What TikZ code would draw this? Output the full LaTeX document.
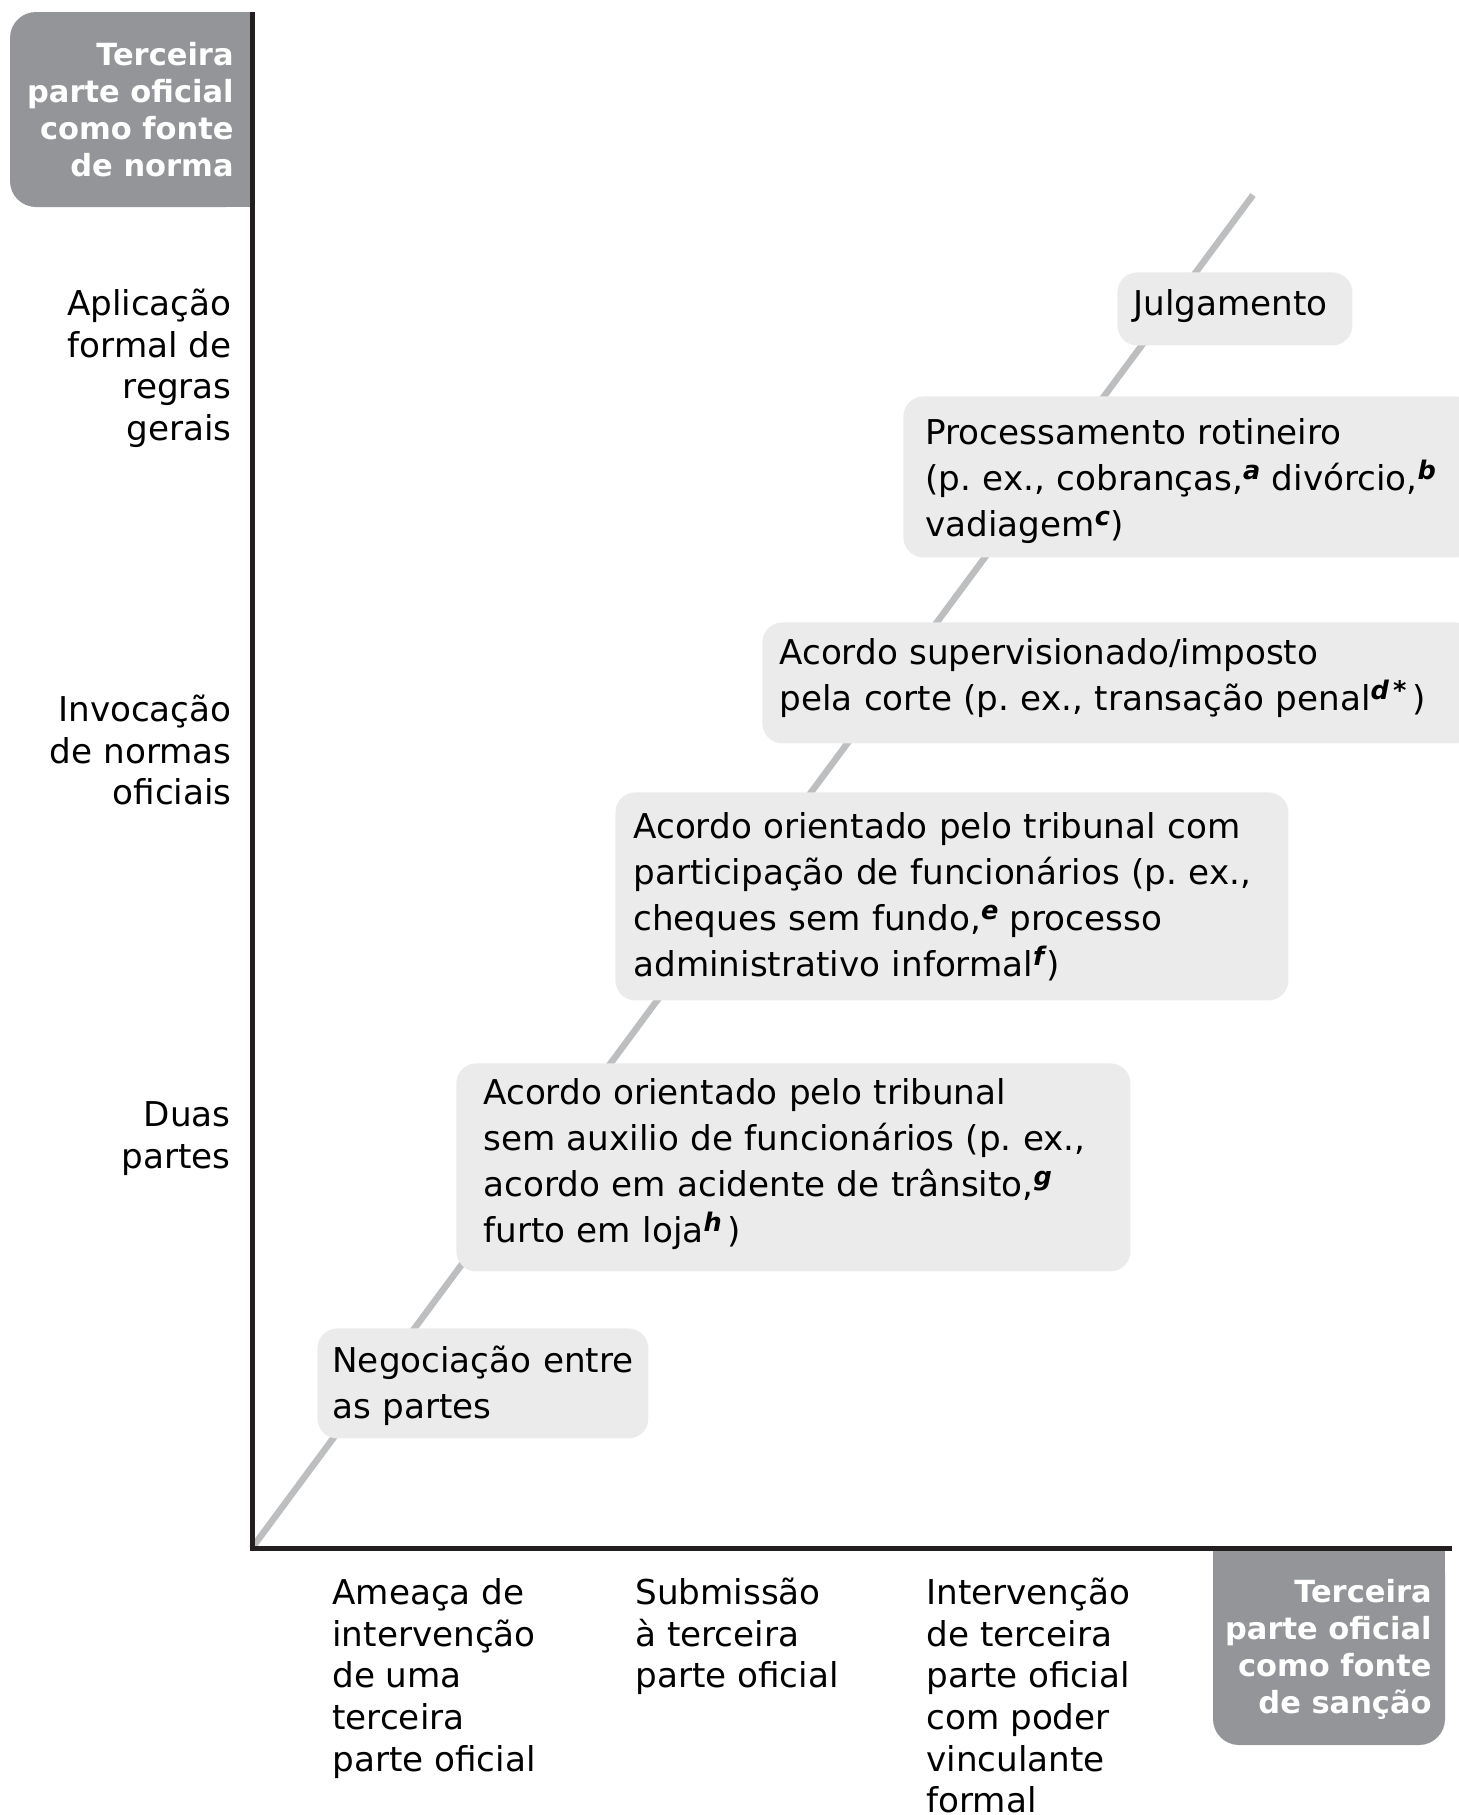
\documentclass[tikz,border=0pt]{standalone}
\usepackage{fontspec}
\setmainfont{DejaVu Sans}[BoldFont={DejaVu Sans Bold},ItalicFont={DejaVu Sans Oblique},BoldItalicFont={DejaVu Sans Bold Oblique}]
\newcommand{\fnm}[1]{\raisebox{5.5pt}{\fontsize{12.8}{12.8}\selectfont\bfseries\itshape #1\/}}
\definecolor{axisc}{HTML}{231F20}
\definecolor{diagc}{HTML}{BCBEC0}
\definecolor{boxc}{HTML}{EBEBEC}
\definecolor{darkc}{HTML}{939598}
\frenchspacing
\begin{document}
\frenchspacing
\begin{tikzpicture}[x=0.5pt,y=-0.5pt,
  axisline/.style={draw=axisc,line width=2.5pt},
  diagline/.style={draw=diagc,line width=3.25pt},
  lbox/.style={fill=boxc,rounded corners=10pt,inner ysep=0pt,anchor=north west,align=left,text=black,font=\fontsize{17.1}{23}\selectfont\frenchspacing},
  axlab/.style={inner sep=0pt,text=black,font=\fontsize{17.1}{20.85}\selectfont},
  darklab/.style={inner sep=0pt,anchor=north east,align=right,text=white,font=\fontsize{15.25}{18.5}\selectfont\bfseries}]

\useasboundingbox (0,0) rectangle (1459,1815);

\coordinate (O) at (252,1548);
\coordinate (ytop) at (252,12);
\coordinate (xend) at (1452,1548);
\coordinate (dend) at (1253,195);

\draw[diagline] (O) -- (dend);

% dark corner boxes
\fill[darkc, rounded corners=13pt] (10,12) rectangle (252,207);
\fill[darkc] (200,12) rectangle (252,207);
\fill[darkc, rounded corners=13pt] (1213,1548) rectangle (1445,1745);
\fill[darkc] (1213,1548) rectangle (1445,1650);

\node[darklab] (norma) at (234,25) {\rule{0pt}{20pt}Terceira\\parte oficial\\como fonte\\de norma};
\node[darklab] (sancao) at (1432,1562) {\rule{0pt}{20pt}Terceira\\parte oficial\\como fonte\\de sanção};

% stage boxes
\node[lbox, inner xsep=8pt, text width=101.5pt] (julg) at (1117,272)
  {\mbox{\rule[-15pt]{0pt}{36.5pt}Julgamento}};
\node[lbox, inner xsep=11pt, text width=264pt] (proc) at (903,396)
  {\mbox{\rule{0pt}{24pt}Processamento rotineiro}\\
   \mbox{(p. ex., cobranças,\fnm{a} divórcio,\fnm{b}}\\
   \mbox{vadiagem\fnm{c})\rule[-10.5pt]{0pt}{10.5pt}}};
\node[lbox, inner xsep=8.5pt, text width=339.5pt] (superv) at (762,622)
  {\mbox{\rule{0pt}{21pt}Acordo supervisionado/imposto}\\
   \mbox{pela corte (p. ex., transação penal\fnm{d\,*}\,)\rule[-16.5pt]{0pt}{16.5pt}}};
\node[lbox, inner xsep=9pt, text width=318.5pt] (comfunc) at (615,792)
  {\mbox{\rule{0pt}{23pt}Acordo orientado pelo tribunal com}\\
   \mbox{participação de funcionários (p. ex.,}\\
   \mbox{cheques sem fundo,\fnm{e} processo}\\
   \mbox{administrativo informal\fnm{f})\rule[-12pt]{0pt}{12pt}}};
\node[lbox, inner xsep=13.5pt, text width=310pt] (semfunc) at (456,1063)
  {\mbox{\rule{0pt}{20.5pt}Acordo orientado pelo tribunal}\\
   \mbox{sem auxilio de funcionários (p. ex.,}\\
   \mbox{acordo em acidente de trânsito,\fnm{g}}\\
   \mbox{furto em loja\fnm{h}\,)\rule[-14.5pt]{0pt}{14.5pt}}};
\node[lbox, inner xsep=7.5pt, text width=150.5pt] (negoc) at (317,1328)
  {\mbox{\rule{0pt}{22pt}Negociação entre}\\
   \mbox{as partes\rule[-10pt]{0pt}{10pt}}};

% y-axis labels
\node[axlab, anchor=north east, align=right] (aplic) at (232,275)
  {\rule{0pt}{20pt}Aplicação\\formal de\\regras\\gerais};
\node[axlab, anchor=north east, align=right] (invoc) at (232,681)
  {\rule{0pt}{20pt}Invocação\\de normas\\oficiais};
\node[axlab, anchor=north east, align=right] (duas) at (231,1086)
  {\rule{0pt}{20pt}Duas\\partes};

% x-axis labels
\node[axlab, anchor=north west, align=left] (ameaca) at (332,1564)
  {\rule{0pt}{20pt}Ameaça de\\intervenção\\de uma\\terceira\\parte oficial};
\node[axlab, anchor=north west, align=left] (submis) at (635,1564)
  {\rule{0pt}{20pt}Submissão\\à terceira\\parte oficial};
\node[axlab, anchor=north west, align=left] (interv) at (926,1564)
  {\rule{0pt}{20pt}Intervenção\\de terceira\\parte oficial\\com poder\\vinculante\\formal};

% axes
\draw[axisline] (ytop) -- (O) -- (xend);
\end{tikzpicture}
\end{document}
